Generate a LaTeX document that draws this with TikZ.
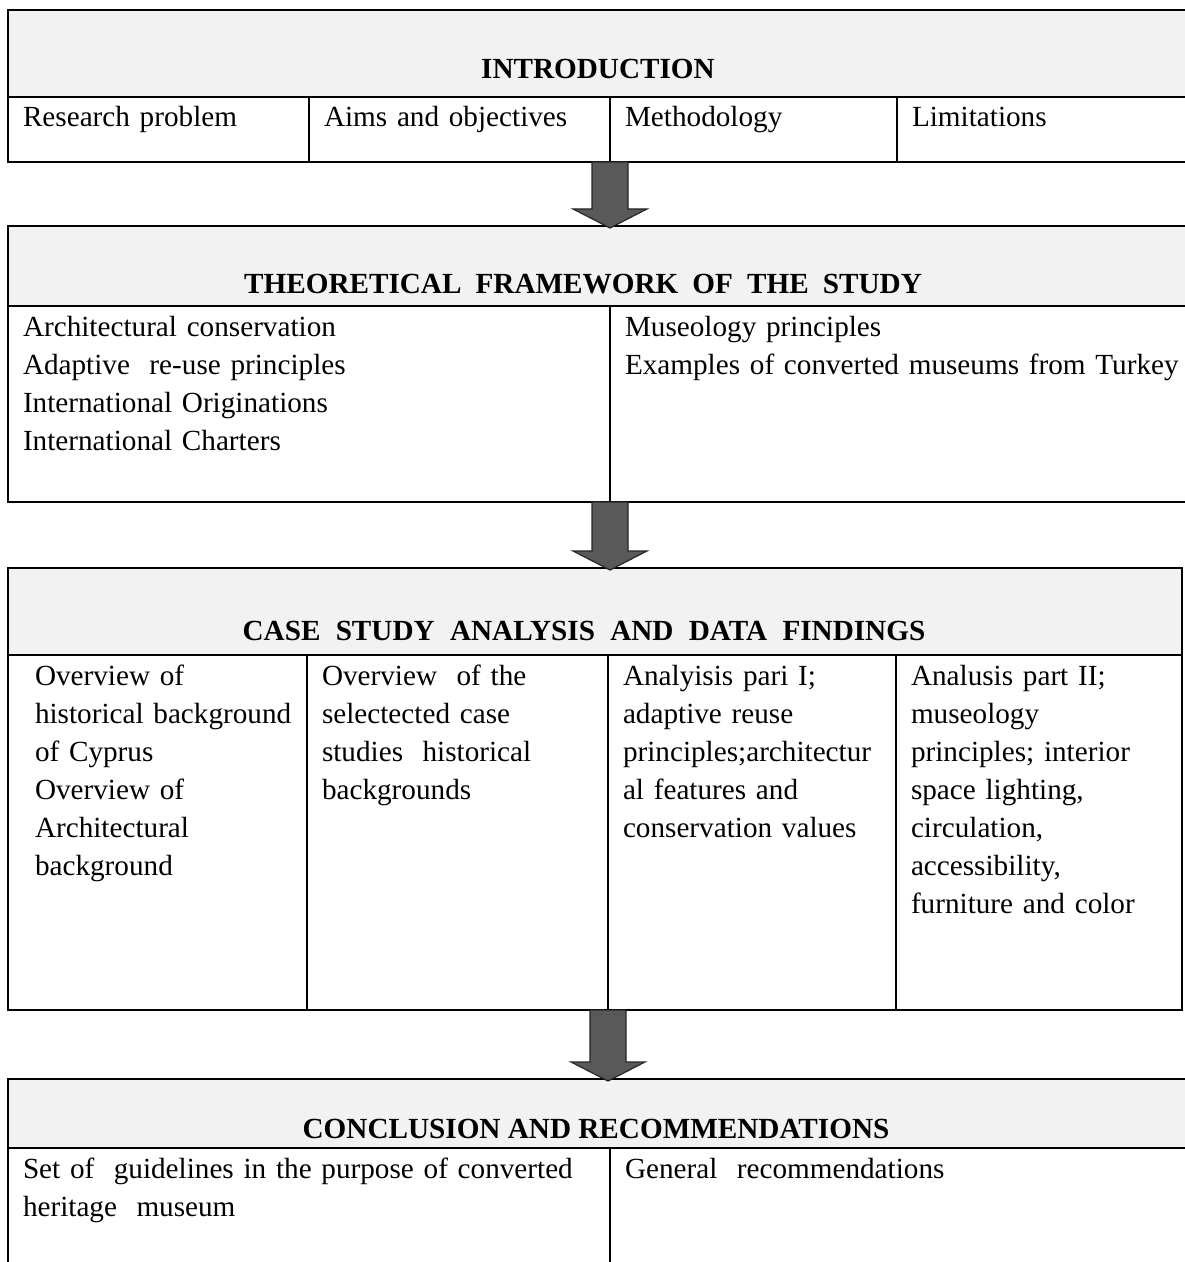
\documentclass[tikz,border=0pt]{standalone}
\usepackage{fontspec}
\setmainfont{Liberation Serif}
\usetikzlibrary{calc}

\definecolor{headgray}{RGB}{242,242,242}
\definecolor{arrowgray}{RGB}{89,89,89}

\begin{document}
\begin{tikzpicture}[x=0.5pt, y=-0.5pt,
  every node/.style={font=\fontsize{14.6}{19}\selectfont},
  head/.style={draw, line width=0.8pt, fill=headgray, anchor=north west, inner sep=0pt, outer sep=0pt},
  cell/.style={draw, line width=0.8pt, anchor=north west, inner xsep=7.5pt, inner ysep=0pt, outer sep=0pt, align=left, text width=#1, text height=15pt},
  title/.style={anchor=base, font=\fontsize{14.6}{19}\selectfont\bfseries},
  blockarrow/.style={fill=arrowgray, draw=black!85, line width=0.6pt, line join=miter}]
  \useasboundingbox (0,0) rectangle (1184,1262);

  % introduction
  \node[head, minimum width=591pt, minimum height=43.5pt] (intro) at (8,10) {};
  \node[title] (introT) at ([xshift=-0.5pt, yshift=9pt]intro.south) {INTRODUCTION};
  \node[cell=135.5pt, text depth=17.5pt] (intro1) at (intro.south west) {Research problem};
  \node[cell=135.5pt, text depth=17.5pt] (intro2) at (intro1.north east) {Aims and objectives};
  \node[cell=128.5pt, text depth=17.5pt] (intro3) at (intro2.north east) {Methodology};
  \node[cell=131.5pt, text depth=17.5pt] (intro4) at (intro3.north east) {Limitations};

  % theoretical framework
  \node[head, minimum width=591pt, minimum height=40pt] (theo) at (8,226) {};
  \node[title] (theoT) at ([xshift=-8pt, yshift=6pt]theo.south)
    {THEORETICAL\hspace{3.4pt} FRAMEWORK\hspace{3.4pt} OF\hspace{3.4pt} THE\hspace{3.4pt} STUDY};
  \node[cell=286pt, text depth=83pt] (theo1) at (theo.south west)
    {Architectural conservation\\Adaptive\ \ re-use principles\\International Originations\\International Charters};
  \node[cell=290pt, text depth=83pt] (theo2) at (theo1.north east)
    {Museology principles\\Examples of converted museums from Turkey};

  % case study
  \node[head, minimum width=587pt, minimum height=43.5pt] (case) at (8,568) {};
  \node[title] (caseT) at ([xshift=-5.5pt, yshift=7.5pt]case.south)
    {CASE\hspace{4pt} STUDY\hspace{4pt} ANALYSIS\hspace{4pt} AND\hspace{4pt} DATA\hspace{4pt} FINDINGS};
  \node[cell=134.5pt, text depth=162.5pt] (case1) at (case.south west)
    {\leftskip=6pt Overview of\\historical background\\of Cyprus\\Overview of\\Architectural\\background\par};
  \node[cell=135.5pt, text depth=162.5pt] (case2) at (case1.north east)
    {Overview\ \ of the\\selectected case\\studies\ \ historical\\backgrounds};
  \node[cell=129pt, text depth=162.5pt] (case3) at (case2.north east)
    {Analyisis pari I;\\adaptive reuse\\principles;architectur\\al features and\\conservation values};
  \node[cell=128pt, text depth=162.5pt] (case4) at (case3.north east)
    {Analusis part II;\\museology\\principles; interior\\space lighting,\\circulation,\\accessibility,\\furniture and color};

  % conclusion
  \node[head, minimum width=591pt, minimum height=34.5pt] (concl) at (8,1079) {};
  \node[title] (conclT) at ([xshift=-1.5pt, yshift=5pt]concl.south) {CONCLUSION AND RECOMMENDATIONS};
  \node[cell=286pt, text depth=46pt] (concl1) at (concl.south west)
    {Set of\ \ guidelines in the purpose of converted\\heritage\ \ museum};
  \node[cell=275pt, text depth=46pt] (concl2) at (concl1.north east) {General\ \ recommendations};

  % arrows between the blocks
  \foreach \a/\b in {intro2/theo, theo1/case, case2/concl} {
    \coordinate (tip) at (\a.south east |- \b.north);
    \filldraw[blockarrow] ($(\a.south east)+(-18,0)$) -- ($(tip)+(-18,-17)$) -- ($(tip)+(-37,-17)$)
      -- ($(tip)+(0,2)$) -- ($(tip)+(37,-17)$) -- ($(tip)+(18,-17)$) -- ($(\a.south east)+(18,0)$) -- cycle;
  }
\end{tikzpicture}
\end{document}
